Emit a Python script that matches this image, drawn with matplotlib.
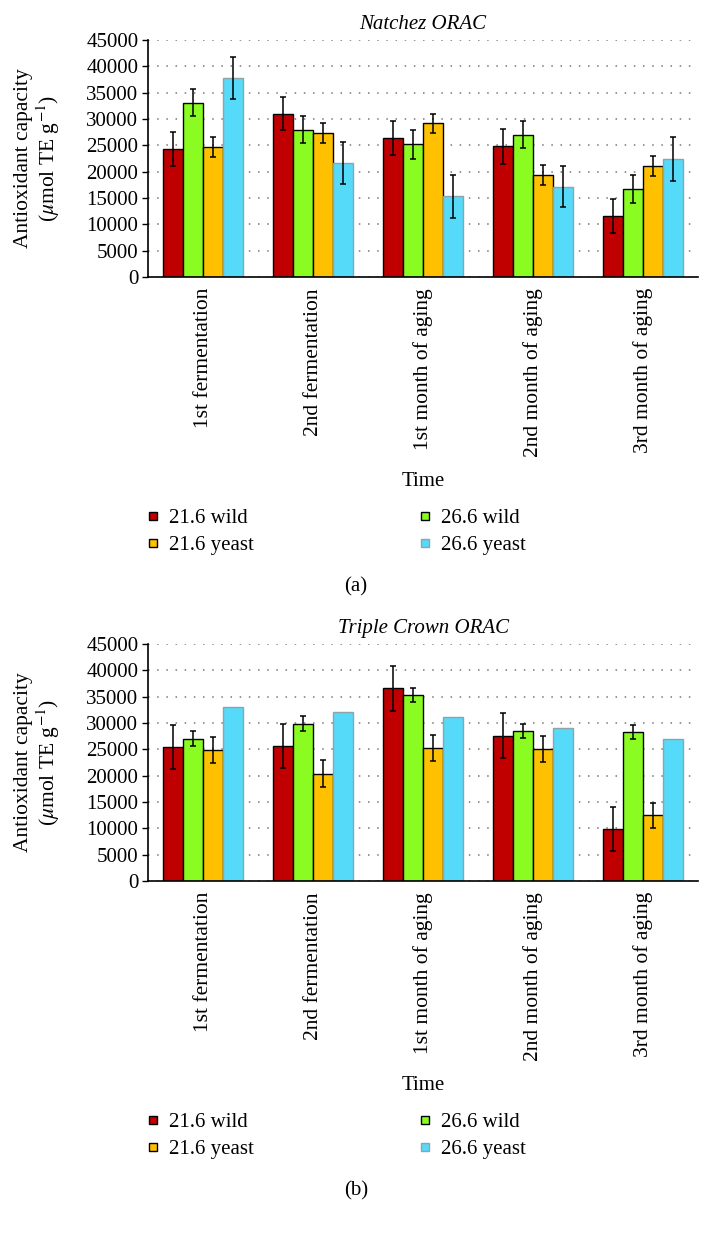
import numpy as np
import matplotlib
matplotlib.use("Agg")
import matplotlib.pyplot as plt
from matplotlib.lines import Line2D

plt.rcParams["font.family"] = ["Liberation Serif", "DejaVu Serif"]
plt.rcParams["mathtext.fontset"] = "stix"

categories = ["1st fermentation", "2nd fermentation", "1st month of aging",
              "2nd month of aging", "3rd month of aging"]
series = ["21.6 wild", "26.6 wild", "21.6 yeast", "26.6 yeast"]
colors = ["#C00000", "#8AFC22", "#FFC000", "#55DAFA"]
edges = ["black", "black", "black", "#8FA3AA"]

# Natchez ORAC (panel a)
natchez_216_wild = [24300, 31000, 26400, 24800, 11600]
natchez_266_wild = [33100, 28000, 25200, 27000, 16700]
natchez_216_yeast = [24600, 27300, 29200, 19300, 21000]
natchez_266_yeast = [37800, 21600, 15300, 17100, 22400]
natchez_216_wild_err = [3200, 3100, 3200, 3300, 3300]
natchez_266_wild_err = [2600, 2600, 2700, 2600, 2700]
natchez_216_yeast_err = [1900, 1900, 1800, 1900, 1900]
natchez_266_yeast_err = [4000, 4000, 4100, 3900, 4100]

# Triple Crown ORAC (panel b)
triple_216_wild = [25400, 25700, 36600, 27600, 9900]
triple_266_wild = [27000, 29900, 35300, 28500, 28300]
triple_216_yeast = [24900, 20400, 25300, 25100, 12500]
triple_266_yeast = [33100, 32100, 31100, 29000, 27000]
triple_216_wild_err = [4200, 4200, 4300, 4300, 4200]
triple_266_wild_err = [1400, 1400, 1400, 1400, 1400]
triple_216_yeast_err = [2500, 2500, 2500, 2500, 2400]
triple_266_yeast_err = None

W, H = 712, 1233
fig = plt.figure(figsize=(W / 100, H / 100), dpi=100)


def draw_panel(top_px, vals, errs, title, tag):
    ax = fig.add_axes([148 / W, 1 - (top_px + 237) / H, 550 / W, 237 / H])
    x = np.arange(len(categories))
    w = 20 / 110
    for i, (v, e) in enumerate(zip(vals, errs)):
        ax.bar(x + (i - 1.5) * w, v, w, color=colors[i], edgecolor=edges[i],
               linewidth=1.0, yerr=e, capsize=2.5,
               error_kw=dict(elinewidth=1.1, capthick=1.1, ecolor="black"),
               zorder=2)
    ax.set_xlim(-0.5, 4.5)
    ax.set_ylim(0, 45000)
    ax.set_yticks(np.arange(0, 45001, 5000))
    ax.set_xticks(x)
    ax.set_xticklabels(categories, rotation=90)
    ax.tick_params(axis="x", length=0, pad=8, labelsize=15.5)
    ax.tick_params(axis="y", length=4, width=1, direction="out", labelsize=15, pad=3)
    ax.grid(axis="y", linestyle=(0, (1, 5)), linewidth=1.1, color="#777777")
    ax.set_axisbelow(True)
    for s in ("top", "right"):
        ax.spines[s].set_visible(False)
    ax.spines["left"].set_linewidth(1.2)
    ax.spines["bottom"].set_linewidth(1.2)
    ax.set_title(title, fontstyle="italic", fontsize=15, pad=8)
    ax.set_ylabel("Antioxidant capacity\n($\\mu$mol TE g$^{-1}$)", fontsize=15.5,
                  multialignment="center", linespacing=1.1)
    ax.yaxis.label.set_va("center")
    ax.yaxis.set_label_coords(-0.2, 0.5)
    ax.set_xlabel("Time", fontsize=15)
    ax.xaxis.set_label_coords(0.5, -(482 - 277) / 237)
    ax.xaxis.label.set_va("center")

    handles = [Line2D([], [], linestyle="none", marker="s", markersize=6,
                      markerfacecolor=colors[i], markeredgecolor="black",
                      markeredgewidth=1.0) for i in range(4)]
    handles[3].set_markeredgecolor("#8FA3AA")
    leg_y = 1 - (top_px + 458) / H
    for xa, idx in [(134, [0, 2]), (406, [1, 3])]:
        fig.legend([handles[j] for j in idx], [series[j] for j in idx],
                   loc="upper left", bbox_to_anchor=(xa / W, leg_y),
                   frameon=False, fontsize=15, handlelength=0.8,
                   handletextpad=0.4, labelspacing=0.35, borderpad=0)
    fig.text(356 / W, 1 - (top_px + 547) / H, tag, ha="center", va="center",
             fontsize=15)
    return ax


draw_panel(40, [natchez_216_wild, natchez_266_wild, natchez_216_yeast, natchez_266_yeast],
           [natchez_216_wild_err, natchez_266_wild_err, natchez_216_yeast_err,
            natchez_266_yeast_err], "Natchez ORAC", "(a)")
draw_panel(644, [triple_216_wild, triple_266_wild, triple_216_yeast, triple_266_yeast],
           [triple_216_wild_err, triple_266_wild_err, triple_216_yeast_err,
            triple_266_yeast_err], "Triple Crown ORAC", "(b)")

fig.savefig("out.png", dpi=100)
